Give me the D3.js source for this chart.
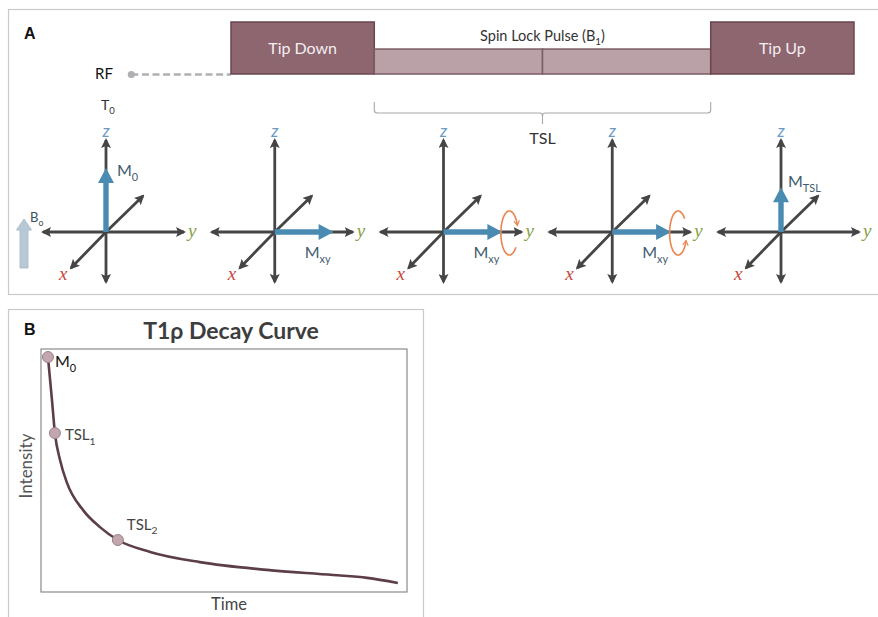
<!DOCTYPE html>
<html>
<head>
<meta charset="utf-8">
<script src="https://cdn.jsdelivr.net/npm/d3@7"></script>
<style>
  html, body { margin: 0; padding: 0; background: #fff; }
  svg { display: block; font-family: Lato, "Open Sans", sans-serif; }
</style>
</head>
<body>
<svg id="fig" width="878" height="617"></svg>
<script>
// ---- Pulse sequence (panel A, top) ----
const pulseLabels = ["Tip Down", "", "", "Tip Up"];
const pulseStart  = [0, 23, 50, 77];
const pulseEnd    = [23, 50, 77, 100];
const pulseAmp    = [1, 0.48, 0.48, 1];
const rfStart = -16;

// ---- Magnetization stages (panel A, bottom) ----
const stageIndex  = [0, 1, 2, 3, 4];
const stageAxis   = ["z", "y", "y", "y", "z"];
const stageMag    = [1.0, 0.92, 0.92, 0.92, 0.70];
const stageLabel  = [["M", "0"], ["M", "xy"], ["M", "xy"], ["M", "xy"], ["M", "TSL"]];
const stageSpin   = [null, null, "down", "up", null];

// ---- T1rho decay curve (panel B) ----
const decayTime      = [1.9, 3.0, 3.8, 5.2, 7.1, 11.5, 16.1, 21.0, 29.8, 43.4, 61.7, 79.8, 89.1, 97.5];
const decayIntensity = [96.7, 79.0, 65.4, 54.3, 44.9, 33.7, 26.7, 21.4, 16.5, 12.3, 9.1, 7.0, 5.8, 3.7];
const markerTime      = [1.9, 3.8, 21.0];
const markerIntensity = [96.7, 65.4, 21.4];
const markerLabels    = [["M", "0"], ["TSL", "1"], ["TSL", "2"]];

const svg = d3.select("#fig");
svg.append("rect").attr("width", 878).attr("height", 617).attr("fill", "#fff");

// panel frames
svg.append("rect").attr("x", 8.5).attr("y", 9.5).attr("width", 880).attr("height", 285)
  .attr("fill", "none").attr("stroke", "#c9c9c9").attr("stroke-width", 1.2);
svg.append("rect").attr("x", 8.5).attr("y", 309.5).attr("width", 415).attr("height", 330)
  .attr("fill", "none").attr("stroke", "#c9c9c9").attr("stroke-width", 1.2);

svg.append("text").attr("x", 24).attr("y", 39).text("A")
  .attr("font-family", "Liberation Sans, Arial, sans-serif").attr("font-weight", "bold").attr("font-size", 16).attr("fill", "#111");
svg.append("text").attr("x", 24).attr("y", 335).text("B")
  .attr("font-family", "Liberation Sans, Arial, sans-serif").attr("font-weight", "bold").attr("font-size", 16).attr("fill", "#111");

// helper: text with subscript
function subText(g, x, y, parts, size, fill, anchor) {
  const t = g.append("text").attr("x", x).attr("y", y).attr("font-size", size)
    .attr("fill", fill).attr("text-anchor", anchor || "start");
  t.append("tspan").text(parts[0]);
  t.append("tspan").attr("dy", size * 0.3).attr("font-size", size * 0.68).text(parts[1]);
  return t;
}

// ---------- pulse sequence ----------
const tx = d3.scaleLinear().domain([0, 100]).range([231, 854]);
const ay = d3.scaleLinear().domain([0, 1]).range([74, 22]);

const pulses = d3.range(pulseStart.length).map(i => ({
  label: pulseLabels[i], s: pulseStart[i], e: pulseEnd[i], a: pulseAmp[i]
}));

// RF line
svg.append("line").attr("x1", tx(rfStart)).attr("x2", tx(0)).attr("y1", ay(0) + 0.5).attr("y2", ay(0) + 0.5)
  .attr("stroke", "#b0b0b4").attr("stroke-width", 2.6).attr("stroke-dasharray", "7,3.6");
svg.append("circle").attr("cx", tx(rfStart)).attr("cy", ay(0) + 0.5).attr("r", 3.6).attr("fill", "#b0b0b4");
svg.append("text").attr("x", 95).attr("y", 79).attr("font-size", 15).attr("fill", "#111").text("RF");
subText(svg, 101, 110, ["T", "0"], 14, "#333");

svg.selectAll("rect.pulse").data(pulses).join("rect").attr("class", "pulse")
  .attr("x", d => tx(d.s)).attr("width", d => tx(d.e) - tx(d.s))
  .attr("y", d => ay(d.a)).attr("height", d => ay(0) - ay(d.a))
  .attr("fill", d => d.a === 1 ? "#8d6670" : "#b9a1a7")
  .attr("stroke", d => d.a === 1 ? "#6a4650" : "#7e5c66").attr("stroke-width", 1.5);

svg.selectAll("text.pulse").data(pulses.filter(d => d.label)).join("text").attr("class", "pulse")
  .attr("x", d => (tx(d.s) + tx(d.e)) / 2).attr("y", d => (ay(d.a) + ay(0)) / 2 + 6)
  .attr("text-anchor", "middle").attr("font-size", 16).attr("fill", "#f4eef0").text(d => d.label);

subText(svg, tx(50), 41, ["Spin Lock Pulse (B", "1"], 14.5, "#333", "middle").append("tspan").attr("dy", -14.5 * 0.3).text(")");

// TSL brace under spin-lock pulse
const bx0 = tx(pulseStart[1]), bx1 = tx(pulseEnd[2]), bm = tx(50);
const braceY = 113;
svg.append("path")
  .attr("d", `M${bx0},102 L${bx0},${braceY - 3} Q${bx0},${braceY} ${bx0 + 3},${braceY} L${bm - 3},${braceY} Q${bm},${braceY} ${bm},${braceY + 3} L${bm},${braceY + 11}
              M${bm},${braceY + 3} Q${bm},${braceY} ${bm + 3},${braceY} L${bx1 - 3},${braceY} Q${bx1},${braceY} ${bx1},${braceY - 3} L${bx1},102`)
  .attr("fill", "none").attr("stroke", "#a8a8a8").attr("stroke-width", 1.1);
svg.append("text").attr("x", bm).attr("y", 144).attr("text-anchor", "middle")
  .attr("font-size", 16).attr("fill", "#333").text("TSL");

// ---------- magnetization stages ----------
const sx = d3.scalePoint().domain(stageIndex).range([106, 781]);
const cy = 232;
const magPx = d3.scaleLinear().domain([0, 1]).range([0, 64]);

const defs = svg.append("defs");
defs.append("marker").attr("id", "ah").attr("viewBox", "0 0 10 10").attr("refX", 8).attr("refY", 5)
  .attr("markerWidth", 10).attr("markerHeight", 10).attr("markerUnits", "userSpaceOnUse").attr("orient", "auto-start-reverse")
  .append("path").attr("d", "M0,0 L10,5 L0,10 L2,5 Z").attr("fill", "#454545");
defs.append("marker").attr("id", "oh").attr("viewBox", "0 0 10 10").attr("refX", 8).attr("refY", 5)
  .attr("markerWidth", 7).attr("markerHeight", 7).attr("markerUnits", "userSpaceOnUse").attr("orient", "auto")
  .append("path").attr("d", "M1,1 L8,5 L1,9").attr("fill", "none").attr("stroke", "#ea8550").attr("stroke-width", 1.6);

// B0 arrow
svg.append("path")
  .attr("d", "M20,268 L20,230 L16.5,230 L24,219 L31.5,230 L28,230 L28,268 Z")
  .attr("fill", "#b8c8d5").attr("stroke", "#a3b6c6").attr("stroke-width", 0.8);
subText(svg, 30, 222, ["B", "o"], 13, "#3c5060");

stageIndex.forEach(i => {
  const cx = sx(i);
  const g = svg.append("g");
  const lines = [
    [cx, cy, cx, 140], [cx, cy, cx, 282],
    [cx, cy, cx + 78, cy], [cx, cy, cx - 63, cy],
    [cx, cy, cx + 37, cy - 36], [cx, cy, cx - 35, cy + 36]
  ];
  lines.forEach(l => {
    g.append("line").attr("x1", l[0]).attr("y1", l[1]).attr("x2", l[2]).attr("y2", l[3])
      .attr("stroke", "#454545").attr("stroke-width", 2.8).attr("marker-end", "url(#ah)");
  });
  g.append("text").attr("x", cx).attr("y", 137).attr("text-anchor", "middle").attr("font-style", "italic")
    .attr("font-size", 17).attr("fill", "#6a9ac4").text("z");
  g.append("text").attr("x", cx + 82).attr("y", 237).attr("font-style", "italic")
    .attr("font-family", "Liberation Serif, serif")
    .attr("font-size", 19).attr("fill", "#86a043").text("y");
  g.append("text").attr("x", cx - 47).attr("y", 280).attr("font-style", "italic")
    .attr("font-family", "Liberation Serif, serif")
    .attr("font-size", 19).attr("fill", "#c9473d").text("x");

  // magnetization vector
  const L = magPx(stageMag[i]);
  const hw = 2.7, headL = 15, headW = 8;
  let d;
  if (stageAxis[i] === "z") {
    d = `M${cx - hw},${cy} L${cx - hw},${cy - L + headL} L${cx - headW},${cy - L + headL} L${cx},${cy - L} L${cx + headW},${cy - L + headL} L${cx + hw},${cy - L + headL} L${cx + hw},${cy} Z`;
  } else {
    d = `M${cx},${cy - hw} L${cx + L - headL},${cy - hw} L${cx + L - headL},${cy - headW} L${cx + L},${cy} L${cx + L - headL},${cy + headW} L${cx + L - headL},${cy + hw} L${cx},${cy + hw} Z`;
  }
  g.append("path").attr("d", d).attr("fill", "#4a8bb2");

  const lab = stageLabel[i];
  if (stageAxis[i] === "z") {
    subText(g, cx + (lab[1] === "0" ? 11 : 7), cy - L + (lab[1] === "0" ? 8 : 0), lab, 16, "#3f5b70");
  } else {
    subText(g, cx + 30, 258, lab, 16, "#3f5b70");
  }

  // spin-lock precession loop
  if (stageSpin[i]) {
    const ex = cx + L + 7, ey = cy + 1, rx = 8.5, ry = 22;
    const angles = stageSpin[i] === "down" ? d3.range(-320, -19, 5) : d3.range(320, 19, -5);
    const pts = angles.map(a => [ex + rx * Math.cos(a * Math.PI / 180), ey + ry * Math.sin(a * Math.PI / 180)]);
    g.append("path").attr("d", d3.line().curve(d3.curveCatmullRom)(pts))
      .attr("fill", "none").attr("stroke", "#ea8550").attr("stroke-width", 1.6).attr("marker-end", "url(#oh)");
  }
});

// ---------- decay curve ----------
const px0 = 41, px1 = 407, py0 = 349, py1 = 592;
const x = d3.scaleLinear().domain([0, 100]).range([px0, px1]);
const y = d3.scaleLinear().domain([0, 100]).range([py1, py0]);

svg.append("rect").attr("x", px0).attr("y", py0).attr("width", px1 - px0).attr("height", py1 - py0)
  .attr("fill", "none").attr("stroke", "#8a8a8a").attr("stroke-width", 1.2);

svg.append("text").attr("x", 231).attr("y", 339).attr("text-anchor", "middle")
  .attr("font-size", 23).attr("font-weight", "bold").attr("fill", "#3d3d3d").text("T1ρ Decay Curve");
svg.append("text").attr("transform", "translate(32,466) rotate(-90)").attr("text-anchor", "middle")
  .attr("font-size", 17).attr("fill", "#555").text("Intensity");
svg.append("text").attr("x", 229).attr("y", 610).attr("text-anchor", "middle")
  .attr("font-size", 16.5).attr("fill", "#444").text("Time");

const curve = decayTime.map((t, i) => [t, decayIntensity[i]]);
svg.append("path").datum(curve)
  .attr("d", d3.line().x(d => x(d[0])).y(d => y(d[1])).curve(d3.curveMonotoneX))
  .attr("fill", "none").attr("stroke", "#5b3e47").attr("stroke-width", 2.6);

svg.selectAll("circle.mk").data(markerTime).join("circle").attr("class", "mk")
  .attr("cx", d => x(d)).attr("cy", (d, i) => y(markerIntensity[i])).attr("r", 5.5)
  .attr("fill", "#c2a7af").attr("stroke", "#9a8088").attr("stroke-width", 1);

const labOff = [[7, 10, 16, "#111"], [10, 7, 15, "#444"], [9, -10, 15, "#444"]];
markerTime.forEach((t, i) => {
  subText(svg, x(t) + labOff[i][0], y(markerIntensity[i]) + labOff[i][1], markerLabels[i], labOff[i][2], labOff[i][3]);
});
</script>
</body>
</html>
